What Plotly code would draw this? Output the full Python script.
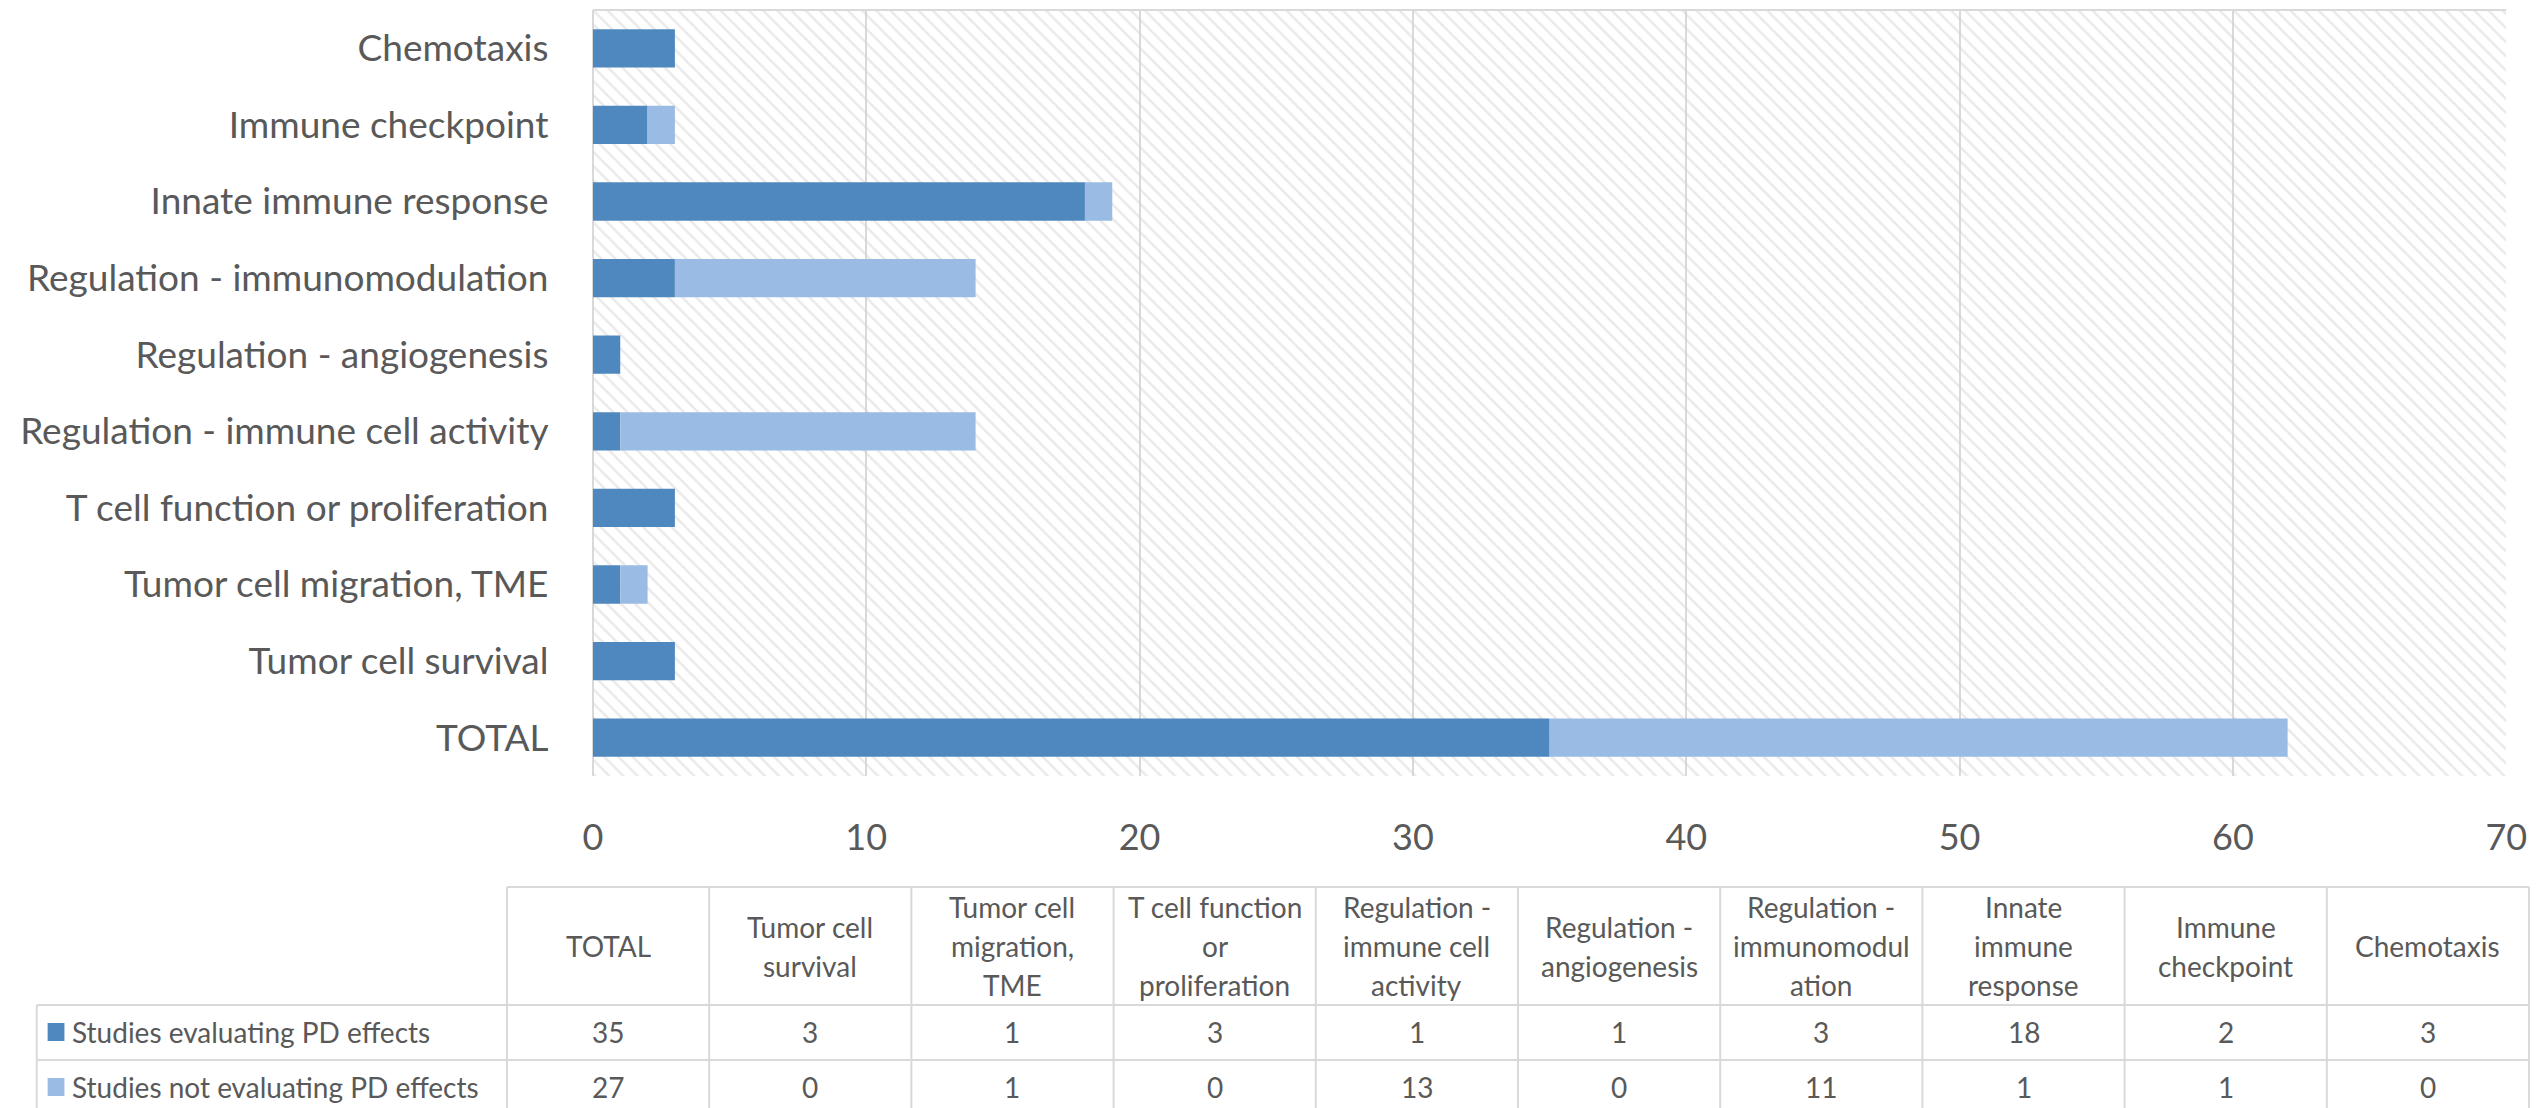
import plotly.graph_objects as go

# chart data (bottom to top on the bar chart, left to right in the table)
categories = [
    "TOTAL",
    "Tumor cell survival",
    "Tumor cell migration, TME",
    "T cell function or proliferation",
    "Regulation - immune cell activity",
    "Regulation - angiogenesis",
    "Regulation - immunomodulation",
    "Innate immune response",
    "Immune checkpoint",
    "Chemotaxis",
]
table_headers = [
    "TOTAL",
    "Tumor cell<br>survival",
    "Tumor cell<br>migration,<br>TME",
    "T cell function<br>or<br>proliferation",
    "Regulation -<br>immune cell<br>activity",
    "Regulation -<br>angiogenesis",
    "Regulation -<br>immunomodul<br>ation",
    "Innate<br>immune<br>response",
    "Immune<br>checkpoint",
    "Chemotaxis",
]
pd_studies = [35, 3, 1, 3, 1, 1, 3, 18, 2, 3]
non_pd_studies = [27, 0, 1, 0, 13, 0, 11, 1, 1, 0]
series_names = ["Studies evaluating PD effects", "Studies not evaluating PD effects"]
x_ticks = [0, 10, 20, 30, 40, 50, 60, 70]

W, H = 2544, 1108
DARK = "#4f88be"
LIGHT = "#9abbe3"
GRID = "#d9d9d9"
TEXT = "#595959"
FONT = "Lato"
x_max = x_ticks[-1]


def px(v):
    return v / W


def py(v):
    return 1 - v / H


fig = go.Figure()

# hatched plot background
fig.add_trace(go.Bar(
    y=categories, x=[x_max] * len(categories), orientation="h", width=1,
    marker=dict(color="rgba(0,0,0,0)", line_width=0,
                pattern=dict(shape="\\", size=10, solidity=0.25,
                             fgcolor="#d4d4d4", fillmode="overlay")),
    hoverinfo="skip", showlegend=False,
))
fig.add_trace(go.Bar(
    y=categories, x=pd_studies, orientation="h", width=0.5,
    name=series_names[0], marker=dict(color=DARK, line_width=0),
))
fig.add_trace(go.Bar(
    y=categories, x=non_pd_studies, base=pd_studies, orientation="h", width=0.5,
    name=series_names[1], marker=dict(color=LIGHT, line_width=0),
))

# plot area position in pixels
plot_l, plot_r, plot_t, plot_b = 582, 2519, 2, 768

fig.update_layout(
    width=W, height=H,
    margin=dict(l=0, r=0, t=0, b=0),
    paper_bgcolor="white", plot_bgcolor="white",
    barmode="overlay", showlegend=False,
    font=dict(family=FONT, color=TEXT),
    xaxis=dict(
        domain=[px(plot_l), px(plot_r)], range=[0, x_max],
        tickvals=x_ticks, showgrid=True, gridcolor=GRID, gridwidth=2,
        zeroline=True, zerolinecolor=GRID, zerolinewidth=2,
        ticks="outside", ticklen=30, tickcolor="rgba(0,0,0,0)",
        tickfont=dict(size=36, color=TEXT), fixedrange=True,
    ),
    yaxis=dict(
        domain=[py(plot_b), py(plot_t)], range=[-0.5, len(categories) - 0.5],
        showgrid=False, ticks="outside", ticklen=36, tickcolor="rgba(0,0,0,0)",
        tickfont=dict(size=37, color=TEXT), fixedrange=True,
    ),
)

shapes = [dict(type="line", xref="x domain", yref="y domain", x0=0, x1=1, y0=1, y1=1,
               line=dict(color=GRID, width=2))]
annotations = []

# data table below the chart
tab_l, tab_c0, tab_r = 19, 495, 2542
head_t, row1_t, row2_t, tab_b = 879, 997, 1052, 1107
n_cols = len(categories)
col_w = (tab_r - tab_c0) / n_cols
line = dict(color=GRID, width=2)
table_font = dict(size=28, color=TEXT)

shapes.append(dict(type="line", xref="paper", yref="paper",
                   x0=px(tab_c0), x1=px(tab_r), y0=py(head_t), y1=py(head_t), line=line))
for y in [row1_t, row2_t, tab_b]:
    shapes.append(dict(type="line", xref="paper", yref="paper",
                       x0=px(tab_l), x1=px(tab_r), y0=py(y), y1=py(y), line=line))
shapes.append(dict(type="line", xref="paper", yref="paper",
                   x0=px(tab_l), x1=px(tab_l), y0=py(row1_t), y1=py(tab_b), line=line))
for i in range(n_cols + 1):
    xc = tab_c0 + i * col_w
    shapes.append(dict(type="line", xref="paper", yref="paper",
                       x0=px(xc), x1=px(xc), y0=py(head_t), y1=py(tab_b), line=line))

line_gap = 39
for i, head in enumerate(table_headers):
    xc = tab_c0 + (i + 0.5) * col_w
    parts = head.split("<br>")
    yc = (head_t + row1_t) / 2
    for k, part in enumerate(parts):
        yk = yc + (k - (len(parts) - 1) / 2) * line_gap
        annotations.append(dict(x=px(xc), y=py(yk), xref="paper", yref="paper",
                                text=part, showarrow=False, xanchor="center", yanchor="middle",
                                font=table_font))
    for vals, top in [(pd_studies, row1_t), (non_pd_studies, row2_t)]:
        annotations.append(dict(x=px(xc), y=py(top + 27), xref="paper", yref="paper",
                                text=str(vals[i]), showarrow=False, xanchor="center",
                                yanchor="middle", font=table_font))

for name, color, top in [(series_names[0], DARK, row1_t), (series_names[1], LIGHT, row2_t)]:
    shapes.append(dict(type="rect", xref="paper", yref="paper",
                       x0=px(30), x1=px(47), y0=py(top + 18), y1=py(top + 36),
                       fillcolor=color, line_width=0))
    annotations.append(dict(x=px(53), y=py(top + 27), xref="paper", yref="paper",
                            text=name, showarrow=False, xanchor="left", yanchor="middle",
                            font=table_font))

fig.update_layout(shapes=shapes, annotations=annotations)
fig.write_html("out.html")
